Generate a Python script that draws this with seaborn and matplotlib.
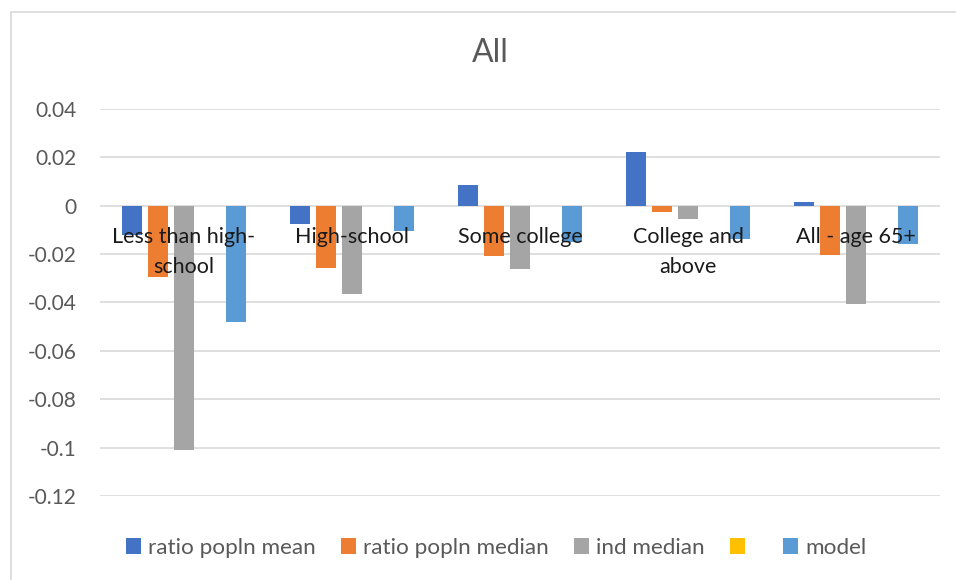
import textwrap

import numpy as np
import pandas as pd
import matplotlib
matplotlib.use("Agg")
import matplotlib.pyplot as plt
import seaborn as sns
from matplotlib.patches import Rectangle
from matplotlib.ticker import MultipleLocator, FuncFormatter

# ---- data -------------------------------------------------------------
categories = ["Less than high-school", "High-school", "Some college",
              "College and above", "All - age 65+"]
series_names = ["ratio popln mean", "ratio popln median", "ind median", " ", "model"]

ratio_popln_mean = [-0.012, -0.0075, 0.0087, 0.0224, 0.0015]
ratio_popln_median = [-0.0294, -0.0257, -0.0207, -0.0025, -0.0203]
ind_median = [-0.101, -0.0365, -0.0261, -0.0055, -0.0406]
unnamed_series = [0.0, 0.0, 0.0, 0.0, 0.0]
model = [-0.048, -0.0104, -0.0149, -0.0137, -0.0158]

colors = ["#4472C4", "#ED7D31", "#A5A5A5", "#FFC000", "#5B9BD5"]

series_values = [ratio_popln_mean, ratio_popln_median, ind_median,
                 unnamed_series, model]

rows = []
for name, vals in zip(series_names, series_values):
    for cat, v in zip(categories, vals):
        rows.append({"category": cat, "series": name, "value": v})
df = pd.DataFrame(rows)

# ---- style ------------------------------------------------------------
sns.set_style("white")
plt.rcParams["font.family"] = ["Lato", "DejaVu Sans"]

fig = plt.figure(figsize=(9.56, 5.80), dpi=100)
ax = fig.add_axes([100 / 956, 1 - 496 / 580, 840 / 956, (496 - 109) / 580])

sns.barplot(data=df, x="category", y="value", hue="series",
            order=categories, hue_order=series_names, palette=colors,
            saturation=1, width=0.768, gap=0.22, linewidth=0,
            errorbar=None, ax=ax)

ax.set_ylim(-0.12, 0.04)
ax.set_xlim(-0.5, len(categories) - 0.5)
ax.yaxis.set_major_locator(MultipleLocator(0.02))
ax.yaxis.set_major_formatter(
    FuncFormatter(lambda v, _: f"{round(v, 2) + 0.0:g}"))
ax.grid(axis="y", color="#d9d9d9", linewidth=1.2)
ax.set_axisbelow(True)
for sp in ax.spines.values():
    sp.set_visible(False)

ax.set_xlabel("")
ax.set_ylabel("")
ax.set_xticks(range(len(categories)))
ax.set_xticklabels([])
ax.tick_params(axis="x", length=0)
ax.tick_params(axis="y", length=0, pad=17, labelsize=15, labelcolor="#595959")

# category labels sit just under the zero line
for i, cat in enumerate(categories):
    ax.annotate(textwrap.fill(cat, 15), xy=(i, 0), xytext=(0, -15),
                textcoords="offset points", ha="center", va="top",
                fontsize=15.5, color="#1a1a1a", linespacing=1.65)

# legend along the bottom
sns.move_legend(ax, loc="center", bbox_to_anchor=(496 / 956, 1 - 548 / 580),
                bbox_transform=fig.transFigure, ncol=5, frameon=False,
                title=None, fontsize=16.2, handlelength=0.7, handleheight=0.7,
                handletextpad=0.3, columnspacing=1.1)
for t in ax.get_legend().get_texts():
    t.set_color("#595959")

fig.text(490 / 956, 1 - 53 / 580, "All", ha="center", va="center",
         fontsize=23, color="#595959")

# chart-area border
fig.patches.append(Rectangle((10.5 / 956, -0.1), 1.0, 1.1 - 11.5 / 580,
                             transform=fig.transFigure, fill=False,
                             edgecolor="#d9d9d9", linewidth=1.2))

fig.savefig("out.png", dpi=100, facecolor="white")
